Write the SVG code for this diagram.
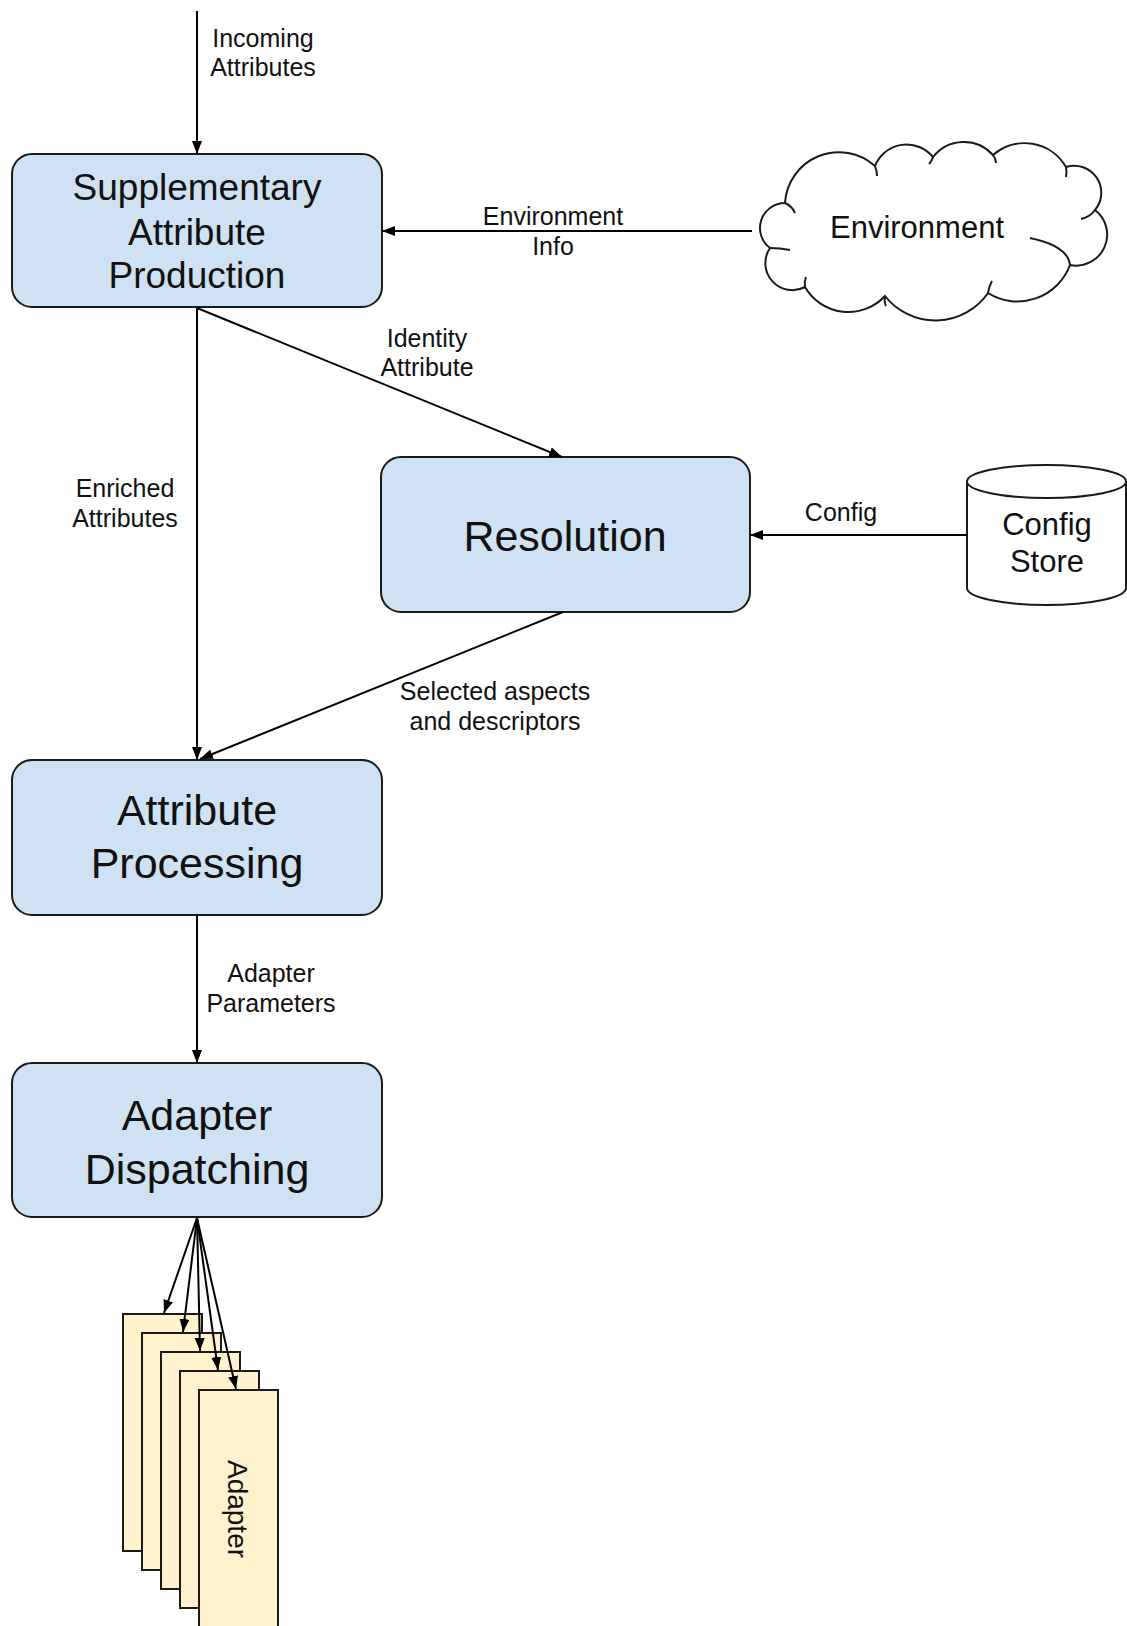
<svg xmlns="http://www.w3.org/2000/svg" width="1127" height="1626" viewBox="0 0 1127 1626">
  <style>
    text { font-family: "Liberation Sans", Arial, sans-serif; fill: #111; }
    .box { fill: #cfe2f3; stroke: #1a1a1a; stroke-width: 2; }
    .adp { fill: #fff2cc; stroke: #1a1a1a; stroke-width: 2; }
    .shape { fill: #ffffff; stroke: #1a1a1a; stroke-width: 2; }
    .hook { fill: none; stroke: #1a1a1a; stroke-width: 2; }
    .conn { fill: none; stroke: #000; stroke-width: 2; marker-end: url(#ah); }
    .big { font-size: 43px; text-anchor: middle; }
    .mid { font-size: 37px; text-anchor: middle; }
    .med { font-size: 31px; text-anchor: middle; }
    .lbl { font-size: 25px; text-anchor: middle; }
    .adt { font-size: 28px; text-anchor: middle; }
  </style>
  <defs>
    <marker id="ah" markerWidth="13" markerHeight="10" refX="13" refY="5" orient="auto" markerUnits="userSpaceOnUse">
      <path d="M0,0 L13,5 L0,10 z" fill="#000"/>
    </marker>
  </defs>
  <rect width="1127" height="1626" fill="#ffffff"/>

  <g id="supplementary">
    <rect class="box" x="12" y="154" width="370" height="153" rx="20"/>
    <text class="mid" x="197" y="200">Supplementary</text>
    <text class="mid" x="197" y="245">Attribute</text>
    <text class="mid" x="197" y="288">Production</text>
  </g>

  <g id="environment">
    <path class="shape" d="M770,248 A25,25 0 0 1 785,203 A54,54 0 0 1 875,166 A34,34 0 0 1 933,157 A39,39 0 0 1 993,155 A48,48 0 0 1 1066,167 A27,27 0 0 1 1095,210 A31,31 0 0 1 1070,265 A56,56 0 0 1 988,293 A64,64 0 0 1 885,296 A50,50 0 0 1 805,287 A27,27 0 0 1 770,248 Z"/>
    <path class="hook" d="M785,203 Q792,206 795,213"/>
    <path class="hook" d="M875,166 Q877,171 877,176"/>
    <path class="hook" d="M933,157 Q932,161 929,164"/>
    <path class="hook" d="M993,155 Q996,159 996,163"/>
    <path class="hook" d="M1066,167 Q1067,172 1066,177"/>
    <path class="hook" d="M1095,210 Q1090,217 1081,219"/>
    <path class="hook" d="M1070,265 Q1068,246 1030,238"/>
    <path class="hook" d="M988,293 Q989,286 992,281"/>
    <path class="hook" d="M885,296 Q884,302 886,306"/>
    <path class="hook" d="M805,287 Q804,282 806,277"/>
    <path class="hook" d="M770,248 Q780,248 790,250"/>
    <text class="med" x="917" y="238">Environment</text>
  </g>

  <g id="resolution">
    <rect class="box" x="381" y="457" width="369" height="155" rx="20"/>
    <text class="big" x="565" y="551">Resolution</text>
  </g>

  <g id="config-store">
    <path class="shape" d="M967,481.5 L967,588 A79.5,17 0 0 0 1126,588 L1126,481.5"/>
    <ellipse class="shape" cx="1046.5" cy="481.5" rx="79.5" ry="16.5"/>
    <text class="med" x="1047" y="535">Config</text>
    <text class="med" x="1047" y="572">Store</text>
  </g>

  <g id="attribute-processing">
    <rect class="box" x="12" y="760" width="370" height="155" rx="20"/>
    <text class="big" x="197" y="825">Attribute</text>
    <text class="big" x="197" y="878">Processing</text>
  </g>

  <g id="adapter-dispatching">
    <rect class="box" x="12" y="1063" width="370" height="154" rx="20"/>
    <text class="big" x="197" y="1130">Adapter</text>
    <text class="big" x="197" y="1184">Dispatching</text>
  </g>

  <g id="adapters">
    <rect class="adp" x="123" y="1314" width="79" height="237"/>
    <rect class="adp" x="142" y="1333" width="79" height="237"/>
    <rect class="adp" x="161" y="1352" width="79" height="237"/>
    <rect class="adp" x="180" y="1371" width="79" height="237"/>
    <rect class="adp" x="199" y="1390" width="79" height="240"/>
    <text class="adt" transform="translate(228,1509) rotate(90)">Adapter</text>
  </g>

  <g id="connectors">
    <path class="conn" d="M197,11 L197,154"/>
    <path class="conn" d="M752,231 L382,231"/>
    <path class="conn" d="M197,308 L562,457"/>
    <path class="conn" d="M197,308 L197,760"/>
    <path class="conn" d="M967,535 L750,535"/>
    <path class="conn" d="M563,612 L200,759"/>
    <path class="conn" d="M197,915 L197,1063"/>
    <path class="conn" d="M197,1218 L164,1313"/>
    <path class="conn" d="M197,1218 L183,1332"/>
    <path class="conn" d="M197,1218 L200,1351"/>
    <path class="conn" d="M197,1218 L218,1370"/>
    <path class="conn" d="M197,1218 L236,1389"/>
    <text class="lbl" x="263" y="47">Incoming</text>
    <text class="lbl" x="263" y="76">Attributes</text>
    <text class="lbl" x="553" y="225">Environment</text>
    <text class="lbl" x="553" y="255">Info</text>
    <text class="lbl" x="427" y="347">Identity</text>
    <text class="lbl" x="427" y="376">Attribute</text>
    <text class="lbl" x="125" y="497">Enriched</text>
    <text class="lbl" x="125" y="527">Attributes</text>
    <text class="lbl" x="841" y="521">Config</text>
    <text class="lbl" x="495" y="700">Selected aspects</text>
    <text class="lbl" x="495" y="730">and descriptors</text>
    <text class="lbl" x="271" y="982">Adapter</text>
    <text class="lbl" x="271" y="1012">Parameters</text>
  </g>
</svg>
